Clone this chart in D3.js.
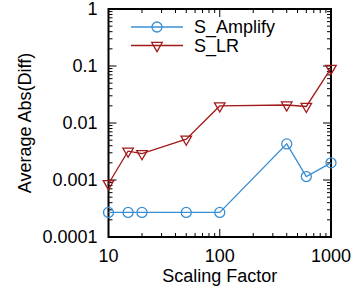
<!DOCTYPE html>
<html>
<head>
<meta charset="utf-8">
<script src="https://cdn.jsdelivr.net/npm/d3@7"></script>
<style>
  body { margin: 0; background: #fff; }
  text { font-family: "Liberation Sans", Arial, sans-serif; fill: #000; }
</style>
</head>
<body>
<svg id="chart" width="359" height="290"></svg>
<script>
var scaleFactors = [10, 15, 20, 50, 100, 400, 600, 1000];
var ampValues = [0.00027, 0.00027, 0.00027, 0.00027, 0.00027, 0.0043, 0.00115, 0.002];
var lrValues = [0.00086, 0.0032, 0.0029, 0.0052, 0.0199, 0.0207, 0.0195, 0.091];
var seriesNames = ['S_Amplify', 'S_LR'];
var seriesColors = ['#3a8fd3', '#a11a1a'];
var yTickValues = [0.0001, 0.001, 0.01, 0.1, 1];
var yTickLabels = ['0.0001', '0.001', '0.01', '0.1', '1'];
var xTickValues = [10, 100, 1000];

var svg = d3.select('#chart'),
    margin = {left: 108.5, right: 28, top: 9, bottom: 53},
    width = 359 - margin.left - margin.right,
    height = 290 - margin.top - margin.bottom;

var x = d3.scaleLog().domain([10, 1000]).range([0, width]);
var y = d3.scaleLog().domain([0.0001, 1]).range([height, 0]);

var g = svg.append('g').attr('transform', 'translate(' + margin.left + ',' + margin.top + ')');

// minor ticks for a log axis
function minorTicks(lo, hi) {
    var out = [];
    for (var d = lo; d < hi; d *= 10) {
        for (var k = 2; k <= 9; k++) out.push(d * k);
    }
    return out;
}
var xMinor = minorTicks(10, 1000), yMinor = minorTicks(0.0001, 1);

var ticks = g.append('g').attr('stroke', '#000').attr('stroke-width', 1);
xMinor.concat(xTickValues).forEach(function (v) {
    var len = xTickValues.indexOf(v) >= 0 ? 8 : 4;
    ticks.append('line').attr('x1', x(v)).attr('x2', x(v)).attr('y1', height).attr('y2', height - len);
    ticks.append('line').attr('x1', x(v)).attr('x2', x(v)).attr('y1', 0).attr('y2', len);
});
yMinor.concat(yTickValues).forEach(function (v) {
    var len = yTickValues.indexOf(v) >= 0 ? 8 : 4;
    ticks.append('line').attr('y1', y(v)).attr('y2', y(v)).attr('x1', 0).attr('x2', len);
    ticks.append('line').attr('y1', y(v)).attr('y2', y(v)).attr('x1', width).attr('x2', width - len);
});

g.append('rect').attr('width', width).attr('height', height)
    .attr('fill', 'none').attr('stroke', '#000').attr('stroke-width', 2);

// tick labels
g.selectAll('text.ylab').data(yTickValues).enter().append('text')
    .attr('class', 'ylab')
    .attr('x', -11).attr('y', function (d) { return y(d); })
    .attr('dy', '0.36em')
    .attr('text-anchor', 'end')
    .style('font-size', '18px')
    .text(function (d, i) { return yTickLabels[i]; });

g.selectAll('text.xlab').data(xTickValues).enter().append('text')
    .attr('class', 'xlab')
    .attr('x', function (d) { return x(d); }).attr('y', height + 25)
    .attr('text-anchor', 'middle')
    .style('font-size', '18px')
    .text(function (d) { return d; });

svg.append('text')
    .attr('x', margin.left + width / 2).attr('y', 282)
    .attr('text-anchor', 'middle')
    .style('font-size', '18px')
    .text('Scaling Factor');

svg.append('text')
    .attr('transform', 'translate(31,' + (margin.top + height / 2) + ') rotate(-90)')
    .attr('text-anchor', 'middle')
    .style('font-size', '18px')
    .text('Average Abs(Diff)');

var line = d3.line().x(function (d) { return x(d[0]); }).y(function (d) { return y(d[1]); });
var triangle = d3.symbol().type(d3.symbolTriangle).size(48);

function drawMarker(sel, i) {
    if (i === 0) {
        sel.append('circle').attr('r', 5).attr('fill', 'none')
            .attr('stroke', seriesColors[0]).attr('stroke-width', 1.3);
    } else {
        sel.append('path').attr('d', triangle).attr('transform', 'rotate(180)')
            .attr('fill', 'none').attr('stroke', seriesColors[1]).attr('stroke-width', 1.3);
    }
}

[ampValues, lrValues].forEach(function (vals, i) {
    var pts = scaleFactors.map(function (s, j) { return [s, vals[j]]; });
    g.append('path').datum(pts).attr('d', line)
        .attr('fill', 'none').attr('stroke', seriesColors[i]).attr('stroke-width', 1.3);
    pts.forEach(function (p) {
        var m = g.append('g').attr('transform', 'translate(' + x(p[0]) + ',' + y(p[1]) + ')');
        drawMarker(m, i);
    });
});

// legend
var legend = svg.append('g').attr('transform', 'translate(131,27)');
seriesNames.forEach(function (name, i) {
    var row = legend.append('g').attr('transform', 'translate(0,' + i * 18.5 + ')');
    row.append('line').attr('x1', 0).attr('x2', 52)
        .attr('stroke', seriesColors[i]).attr('stroke-width', 1.3);
    var m = row.append('g').attr('transform', 'translate(26,0)');
    drawMarker(m, i);
    row.append('text').attr('x', 63).attr('dy', '0.36em')
        .style('font-size', '18px').text(name);
});
</script>
</body>
</html>
